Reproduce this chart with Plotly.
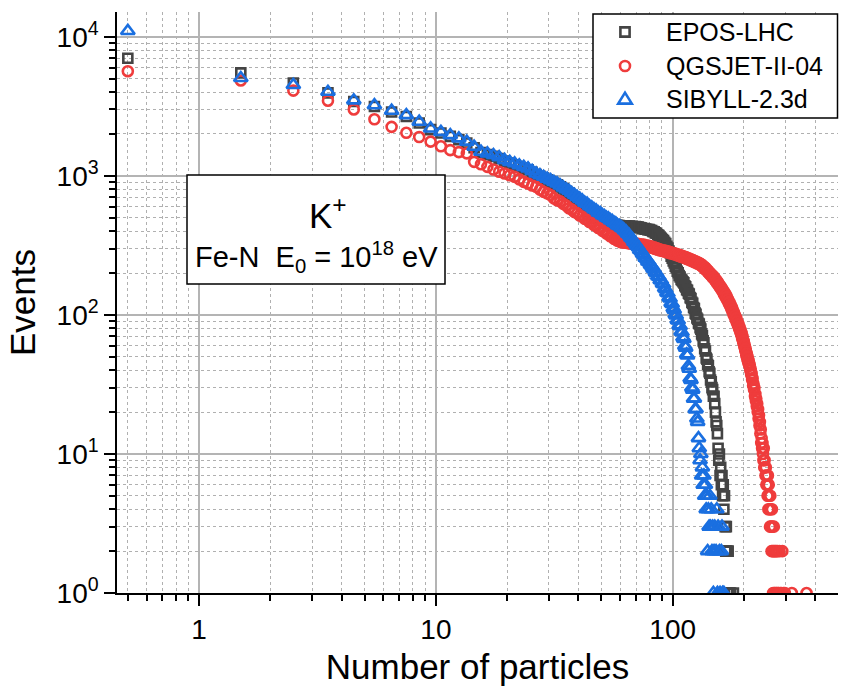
import math
import plotly.graph_objects as go

# Event counts per multiplicity bin; bin k is centred at k + 0.5 particles.
epos_counts = [
    7000, 5500, 4650, 3950, 3420, 3150, 2880, 2670, 2400, 2150,
    2030, 1920, 1820, 1720, 1590, 1470, 1420, 1380, 1330, 1275,
    1235, 1200, 1165, 1135, 1105, 1060, 1020, 990, 965, 935,
    910, 885, 862, 832, 805, 775, 752, 722, 698, 668,
    640, 618, 596, 578, 558, 540, 525, 512, 500, 488,
    478, 470, 462, 456, 452, 450, 446, 442, 440, 438,
    436, 437, 435, 436, 434, 435, 432, 433, 430, 431,
    430, 429, 424, 423, 417, 418, 414, 413, 410, 410,
    406, 404, 398, 396, 389, 386, 377, 372, 362, 356,
    348, 343, 332, 326, 311, 302, 288, 280, 264, 256,
    244, 236, 224, 218, 206, 201, 192, 187, 180, 177,
    173, 170, 162, 159, 152, 150, 143, 141, 133, 131,
    123, 121, 113, 111, 103, 101, 95, 93, 87, 86,
    81, 79, 73, 71, 65, 63, 57, 55, 49, 48,
    44, 43, 39, 38, 34, 33, 30, 29, 26, 26,
    23, 20, 17, 16, 14, 11, 9, 10, 7, 8,
    6, 7, 5, 6, 4, 5, 3, 2, 3, 2,
    1, 2, 0, 1, 0, 1, 0, 0, 0, 0,
    1,
]

qgsjet_counts = [
    5650, 4850, 4100, 3470, 3000, 2550, 2250, 2040, 1900, 1760,
    1630, 1530, 1480, 1450, 1260, 1210, 1160, 1110, 1070, 1040,
    1010, 984, 942, 905, 881, 852, 834, 795, 767, 748,
    726, 690, 668, 655, 628, 612, 585, 572, 548, 539,
    518, 510, 490, 484, 466, 460, 442, 437, 421, 417,
    402, 398, 384, 382, 368, 366, 352, 350, 341, 339,
    333, 336, 330, 334, 328, 331, 325, 330, 322, 327,
    320, 325, 318, 322, 316, 320, 313, 317, 310, 314,
    306, 310, 302, 306, 298, 302, 294, 298, 290, 294,
    288, 291, 285, 289, 282, 286, 279, 283, 276, 280,
    274, 277, 271, 275, 268, 272, 265, 269, 262, 266,
    259, 263, 256, 260, 253, 257, 250, 254, 247, 251,
    244, 248, 241, 245, 238, 242, 235, 239, 232, 236,
    229, 232, 224, 228, 219, 223, 214, 218, 209, 212,
    203, 207, 198, 201, 193, 196, 188, 192, 183, 187,
    178, 181, 172, 176, 167, 171, 162, 165, 157, 160,
    152, 155, 147, 150, 141, 145, 136, 140, 131, 135,
    126, 129, 121, 124, 116, 119, 111, 114, 106, 109,
    101, 104, 97, 99, 92, 95, 88, 90, 84, 86,
    80, 82, 76, 78, 72, 74, 67, 70, 63, 65,
    59, 61, 55, 57, 51, 53, 48, 50, 45, 47,
    43, 44, 40, 41, 37, 38, 34, 35, 31, 32,
    29, 30, 26, 27, 24, 25, 22, 23, 20, 21,
    18, 19, 16, 17, 14, 15, 12, 13, 11, 12,
    10, 9, 11, 8, 9, 8, 7, 8, 6, 7,
    6, 5, 7, 4, 6, 5, 4, 3, 5, 4,
    3, 2, 4, 3, 2, 1, 2, 3, 1, 2,
    1, 2, 0, 1, 2, 1, 0, 2, 1, 0,
    1, 0, 2, 0, 1, 0, 0, 1, 0, 0,
    2, 0, 0, 1, 0, 0, 0, 1, 0, 0,
]
# isolated single events far out in the QGSJET tail
qgsjet_far_bins = [318.5, 367.5]
qgsjet_far_counts = [1, 1]

sibyll_counts = [
    11000, 5050, 4500, 4020, 3490, 3220, 2940, 2730, 2450, 2190,
    2070, 1960, 1860, 1760, 1620, 1490, 1450, 1410, 1360, 1300,
    1260, 1230, 1190, 1160, 1130, 1085, 1040, 1010, 984, 955,
    931, 905, 881, 852, 826, 800, 780, 752, 730, 706,
    684, 666, 642, 630, 606, 594, 575, 565, 545, 538,
    522, 514, 500, 494, 480, 474, 460, 455, 440, 436,
    426, 418, 406, 398, 384, 376, 360, 352, 336, 328,
    316, 308, 294, 288, 276, 270, 258, 254, 242, 240,
    230, 225, 216, 213, 203, 200, 190, 188, 178, 177,
    168, 166, 156, 153, 145, 143, 134, 131, 122, 120,
    112, 109, 101, 99, 92, 91, 84, 83, 76, 75,
    69, 67, 60, 58, 52, 51, 43, 41, 35, 34,
    30, 29, 25, 25, 21, 21, 18, 17, 13, 11,
    9, 10, 7, 8, 6, 7, 5, 6, 4, 5,
    2, 4, 3, 5, 3, 4, 2, 3, 1, 2,
    3, 0, 2, 4, 1, 3, 0, 2, 1, 0,
    2, 3, 1, 0, 1,
]

model_names = ["EPOS-LHC", "QGSJET-II-04", "SIBYLL-2.3d"]
model_colors = ["#444444", "#ef3c3c", "#1a6fe0"]

x_tick_vals = [1, 10, 100]
x_tick_text = ["1", "10", "100"]
y_tick_vals = [1, 10, 100, 1000, 10000]
y_tick_text = ["10<sup>0</sup>", "10<sup>1</sup>", "10<sup>2</sup>",
               "10<sup>3</sup>", "10<sup>4</sup>"]


def filled_bins(counts):
    xs, ys = [], []
    for k, c in enumerate(counts):
        if c > 0:
            xs.append(k + 0.5)
            ys.append(c)
    return xs, ys


epos_x, epos_y = filled_bins(epos_counts)
qgs_x, qgs_y = filled_bins(qgsjet_counts)
qgs_x += qgsjet_far_bins
qgs_y += qgsjet_far_counts
sib_x, sib_y = filled_bins(sibyll_counts)

FONT = "Arial, 'Liberation Sans', sans-serif"
W, H = 841, 691
M_L, M_R, M_T, M_B = 117, 3, 12, 98
PW, PH = W - M_L - M_R, H - M_T - M_B

fig = go.Figure()
series = [(epos_x, epos_y, "square-open", 9),
          (qgs_x, qgs_y, "circle-open", 10),
          (sib_x, sib_y, "triangle-up-open", 12)]
for (xs, ys, sym, size), name, col in zip(series, model_names, model_colors):
    fig.add_trace(go.Scatter(
        x=xs, y=ys, mode="markers", name=name, showlegend=False,
        marker=dict(symbol=sym, size=size, color=col,
                    line=dict(width=2.6, color=col)),
    ))

minor_x = [m * 10 ** d for d in range(-1, 3) for m in range(2, 10)]
minor_y = [m * 10 ** d for d in range(0, 5) for m in range(2, 10)]

axis_common = dict(
    type="log",
    showline=True, linecolor="black", linewidth=1.5, mirror=False,
    ticks="outside", ticklen=11, tickwidth=1.5, tickcolor="black",
    showgrid=True, gridcolor="#b4b4b4", gridwidth=2,
    zeroline=False,
    tickfont=dict(family=FONT, size=28, color="black"),
)
minor_common = dict(tickmode="array", ticks="outside", ticklen=6,
                    tickwidth=1.5, tickcolor="black", showgrid=True,
                    gridcolor="#b0b0b0", griddash="dot", gridwidth=1.2)

fig.update_layout(
    width=W, height=H,
    margin=dict(l=M_L, r=M_R, t=M_T, b=M_B),
    paper_bgcolor="white", plot_bgcolor="white",
    font=dict(family=FONT, color="black"),
    showlegend=False,
    xaxis=dict(
        **axis_common,
        range=[math.log10(0.45), math.log10(499)],
        tickmode="array", tickvals=x_tick_vals, ticktext=x_tick_text,
        minor=dict(**minor_common, tickvals=minor_x),
        title=dict(text="Number of particles",
                   font=dict(family=FONT, size=35), standoff=10),
    ),
    yaxis=dict(
        **axis_common,
        range=[0, 4.178],
        tickmode="array", tickvals=y_tick_vals, ticktext=y_tick_text,
        minor=dict(**minor_common, tickvals=minor_y),
        title=dict(text="Events", font=dict(family=FONT, size=35),
                   standoff=10),
    ),
)


def px_x(px):
    return (px - M_L) / PW


def px_y(py):
    return (M_T + PH - py) / PH


# legend frame drawn with shapes and annotations
fig.add_shape(type="rect", xref="paper", yref="paper",
              x0=px_x(593), x1=px_x(837.5), y0=px_y(118), y1=px_y(14),
              line=dict(color="black", width=1.5), fillcolor="white",
              layer="above")
sym_cx = 625
row_y = [32, 66, 99]
# square
cy = row_y[0]
fig.add_shape(type="rect", xref="paper", yref="paper",
              x0=px_x(sym_cx - 4.6), x1=px_x(sym_cx + 4.6),
              y0=px_y(cy + 4.6), y1=px_y(cy - 4.6),
              line=dict(color=model_colors[0], width=2.6), layer="above")
# circle
cy = row_y[1]
fig.add_shape(type="circle", xref="paper", yref="paper",
              x0=px_x(sym_cx - 5), x1=px_x(sym_cx + 5),
              y0=px_y(cy + 5), y1=px_y(cy - 5),
              line=dict(color=model_colors[1], width=2.6), layer="above")
# triangle
cy = row_y[2]
tri = "M {:.5f},{:.5f} L {:.5f},{:.5f} L {:.5f},{:.5f} Z".format(
    px_x(sym_cx - 6.8), px_y(cy + 4.6), px_x(sym_cx + 6.8), px_y(cy + 4.6),
    px_x(sym_cx), px_y(cy - 6.4))
fig.add_shape(type="path", xref="paper", yref="paper", path=tri,
              line=dict(color=model_colors[2], width=2.6), layer="above")
for name, cy in zip(model_names, row_y):
    fig.add_annotation(xref="paper", yref="paper", x=px_x(664), y=px_y(cy),
                       xanchor="left", yanchor="middle", text=name,
                       showarrow=False,
                       font=dict(family=FONT, size=25, color="black"))

# framed label with the particle type and primary
fig.add_shape(type="rect", xref="paper", yref="paper",
              x0=px_x(187), x1=px_x(445), y0=px_y(284), y1=px_y(175),
              line=dict(color="black", width=1.5), fillcolor="white",
              layer="above")
fig.add_annotation(xref="paper", yref="paper", x=px_x(328), y=px_y(213),
                   xanchor="center", yanchor="middle",
                   text="K<sup>+</sup>", showarrow=False,
                   font=dict(family=FONT, size=35, color="black"))
fig.add_annotation(xref="paper", yref="paper", x=px_x(316), y=px_y(257),
                   xanchor="center", yanchor="middle",
                   text="Fe-N\u00a0\u00a0E<sub>0</sub> = 10<sup>18</sup> eV",
                   showarrow=False,
                   font=dict(family=FONT, size=29, color="black"))

fig.write_html("out.html")
